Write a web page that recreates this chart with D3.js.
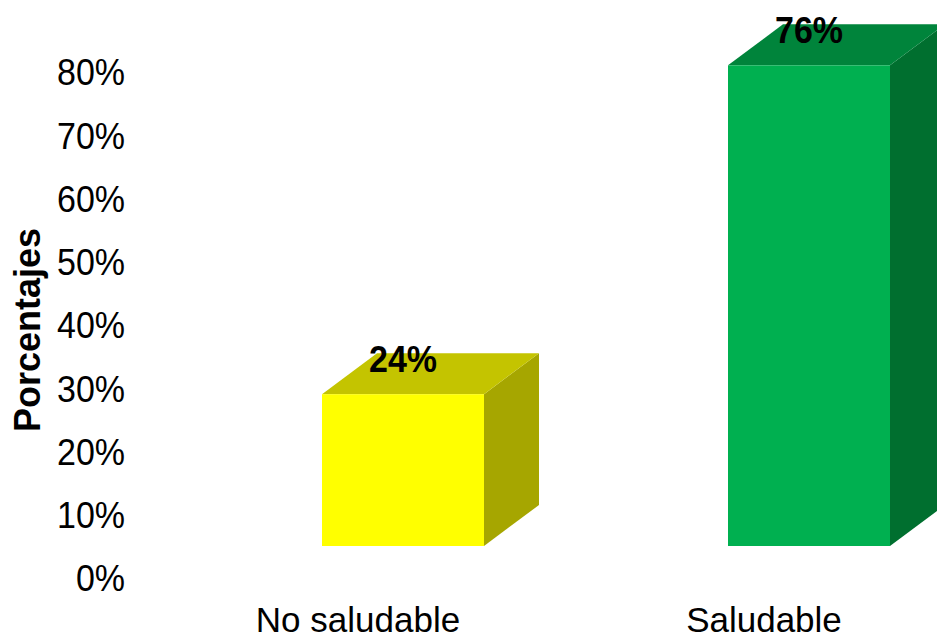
<!DOCTYPE html>
<html>
<head>
<meta charset="utf-8">
<script src="https://cdn.jsdelivr.net/npm/d3@7"></script>
<style>
  html, body { margin: 0; padding: 0; background: #ffffff; }
  svg { display: block; }
  text { font-family: "Liberation Sans", Arial, sans-serif; fill: #000; }
</style>
</head>
<body>
<svg id="chart" width="937" height="640"></svg>
<script>
// Categories and their shares
const categories = ["No saludable", "Saludable"];
const values = [0.24, 0.76];
const valueLabels = ["24%", "76%"];
const tickValues = [0, 0.1, 0.2, 0.3, 0.4, 0.5, 0.6, 0.7, 0.8];

// Face colours per bar: front, top, side
const frontColors = ["#FFFF00", "#00B050"];
const topColors = ["#C4C400", "#00843B"];
const sideColors = ["#A6A600", "#006F2F"];

const svg = d3.select("#chart");

const y = d3.scaleLinear().domain([0, 0.8]).range([579, 73]);
const x = d3.scalePoint().domain(categories).range([403, 809]);

const barW = 162;        // width of the front face
const depthX = 55;       // 3D depth offset
const depthY = -41;
const floorShift = -33;  // front face sits in front of the axis plane

// Value axis (labels only)
const axis = d3.axisLeft(y)
  .tickValues(tickValues)
  .tickFormat(d3.format(".0%"))
  .tickSize(0)
  .tickPadding(3);

const gAxis = svg.append("g").attr("transform", "translate(128,0)").call(axis);
gAxis.select(".domain").remove();
gAxis.selectAll("text")
  .style("font-family", "'Liberation Sans', Arial, sans-serif")
  .style("font-size", "34px")
  .attr("fill", "#000")
  .attr("transform", "scale(1,1.08)");

// Axis title
svg.append("text")
  .attr("transform", "translate(40,330) rotate(-90)")
  .attr("text-anchor", "middle")
  .style("font-size", "36px")
  .style("font-weight", "bold")
  .text("Porcentajes");

// 3D bars
const data = categories.map((c, i) => ({ c, v: values[i], label: valueLabels[i], i }));
const bars = svg.append("g").selectAll("g.bar").data(data).join("g").attr("class", "bar");

bars.each(function (d) {
  const g = d3.select(this);
  const x0 = x(d.c) - barW / 2;
  const x1 = x0 + barW;
  const yTop = y(d.v) + floorShift;
  const yBot = y(0) + floorShift;

  // side face
  g.append("path")
    .attr("d", `M${x1},${yTop} L${x1 + depthX},${yTop + depthY} L${x1 + depthX},${yBot + depthY} L${x1},${yBot} Z`)
    .attr("fill", sideColors[d.i]);
  // top face
  g.append("path")
    .attr("d", `M${x0},${yTop} L${x0 + depthX},${yTop + depthY} L${x1 + depthX},${yTop + depthY} L${x1},${yTop} Z`)
    .attr("fill", topColors[d.i]);
  // front face
  g.append("rect")
    .attr("x", x0).attr("y", yTop)
    .attr("width", barW).attr("height", yBot - yTop)
    .attr("fill", frontColors[d.i]);

  // value label
  g.append("text")
    .attr("transform", `translate(${x(d.c)},${yTop - 22}) scale(1,1.1)`)
    .attr("text-anchor", "middle")
    .style("font-size", "34px")
    .style("font-weight", "bold")
    .text(d.label);
});

// Category labels
svg.append("g").selectAll("text").data(categories).join("text")
  .attr("x", d => x(d) - 45)
  .attr("y", 632)
  .attr("text-anchor", "middle")
  .style("font-size", "35px")
  .text(d => d);
</script>
</body>
</html>
